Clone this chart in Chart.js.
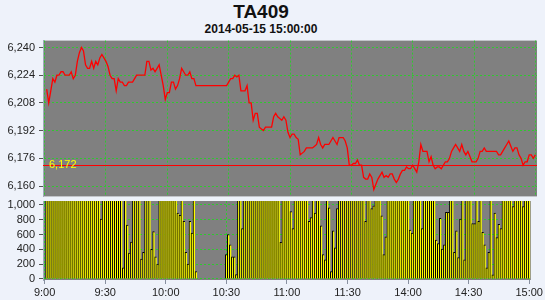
<!DOCTYPE html>
<html>
<head>
<meta charset="utf-8">
<script src="https://cdn.jsdelivr.net/npm/chart.js@4.4.1/dist/chart.umd.min.js"></script>
<style>
  body { margin: 0; background: #eef2fa; }
  #wrap { position: relative; width: 545px; height: 300px; background: #eef2fa; font-family: 'Liberation Sans', sans-serif; color: #111; }
  #title { position: absolute; left: 111px; width: 300px; top: 2px; line-height: 19px; text-align: center; font-weight: bold; font-size: 19px; }
  #sub { position: absolute; left: 111px; width: 300px; top: 23px; line-height: 12px; text-align: center; font-weight: bold; font-size: 12px; }
  #priceChart { position: absolute; left: 0; top: 30px; }
  #volChart { position: absolute; left: 0; top: 190px; }
</style>
</head>
<body>
<div id="wrap">
  <div id="title">TA409</div>
  <div id="sub">2014-05-15 15:00:00</div>
  <canvas id="priceChart" width="545" height="177"></canvas>
  <canvas id="volChart" width="545" height="110"></canvas>
</div>
<script>
// minute index 0 = 9:00 ... 150 = 11:30, 151 = 13:31 ... 240 = 15:00
const tickPos = [0, 30, 60, 90, 120, 150, 180, 210, 240];
const tickText = ['9:00', '9:30', '10:00', '10:30', '11:00', '11:30', '14:00', '14:30', '15:00'];
const priceTicks = [6160, 6176, 6192, 6208, 6224, 6240];
const volTicks = [0, 200, 400, 600, 800, 1000];
const refPrice = 6172;

const price = [null,
  6216, 6208, 6215, 6222, 6220, 6224, 6224, 6226, 6226, 6224,
  6224, 6224, 6226, 6222, 6224, 6232, 6237, 6240, 6238, 6230,
  6228, 6228, 6232, 6228, 6232, 6230, 6234, 6236, 6234, 6232,
  6229, 6224, 6222, 6222, 6215, 6222, 6220, 6220, 6218, 6218,
  6220, 6220, 6220, 6222, 6224, 6224, 6224, 6224, 6224, 6232,
  6232, 6227, 6228, 6226, 6228, 6230, 6224, 6218, 6210, 6214,
  6214, 6220, 6220, 6216, 6218, 6222, 6228, 6226, 6224, 6224,
  6226, 6222, 6222, 6218, 6218, 6218, 6218, 6218, 6218, 6218,
  6218, 6218, 6218, 6218, 6218, 6218, 6218, 6218, 6218, 6220,
  6222, 6222, 6224, 6223, 6224, 6215, 6215, 6215, 6218, 6208,
  6208, 6198, 6202, 6202, 6194, 6193, 6192, 6194, 6194, 6194,
  6194, 6200, 6202, 6200, 6199, 6198, 6200, 6198, 6191, 6188,
  6190, 6190, 6188, 6187, 6178, 6179, 6180, 6182, 6182, 6182,
  6182, 6183, 6184, 6188, 6184, 6182, 6184, 6184, 6184, 6186,
  6188, 6186, 6184, 6188, 6188, 6188, 6186, 6182, 6172, 6172,
  6173, 6173, 6175, 6172, 6172, 6165, 6164, 6164, 6167, 6165,
  6158, 6161, 6164, 6166, 6168, 6165, 6166, 6165, 6167, 6167,
  6164, 6162, 6164, 6167, 6169, 6169, 6171, 6170, 6170, 6172,
  6170, 6168, 6174, 6184, 6180, 6180, 6180, 6174, 6177, 6172,
  6170, 6171, 6171, 6170, 6172, 6174, 6174, 6176, 6180, 6182,
  6184, 6182, 6180, 6184, 6180, 6178, 6180, 6177, 6174, 6174,
  6174, 6176, 6180, 6180, 6182, 6180, 6180, 6180, 6180, 6180,
  6180, 6178, 6178, 6180, 6182, 6184, 6186, 6183, 6180, 6182,
  6182, 6178, 6176, 6172, 6174, 6174, 6178, 6178, 6176, 6178
];

// volumes above the top of the panel are clipped in the picture (1200 = off scale)
const volume = [null,
  1200, 1200, 1200, 1200, 1200, 1200, 1200, 1200, 1200, 1200,
  1200, 1200, 1200, 1200, 1200, 1200, 1200, 1200, 1200, 1200,
  1200, 1200, 1200, 1200, 1200, 1200, 1200, 810, 1200, 1200,
  1200, 1200, 1200, 1200, 1200, 1200, 1200, 1200, 150, 1200,
  730, 350, 500, 1200, 1200, 1200, 1200, 270, 360, 1200,
  1200, 1200, 400, 640, 300, 200, 1200, 1200, 1200, 1200,
  1200, 1200, 1200, 1200, 1200, 890, 860, 1200, 780, 360,
  200, 780, 620, 1200, 100, null, null, null, null, null,
  null, null, null, null, null, null, null, null, null, 330,
  600, 460, 300, 300, 60, 1200, 1200, 680, 1200, 1200,
  1200, 1200, 1200, 1200, 1200, 1200, 1200, 1200, 1200, 1200,
  1200, 1200, 1200, 1200, 1200, 1200, 495, 1200, 1200, 1200,
  1200, 910, 680, 1200, 1200, 1200, 1200, 1200, 1200, 1200,
  780, 830, 1200, 890, 1200, 1200, 720, 330, 260, 1200,
  960, 100, 650, 420, 950, 1200, 1200, 1200, 1200, 1200,
  1200, 1200, 1200, 1200, 1200, 1200, 1200, 1200, 780, 1200,
  1200, 950, 990, 1200, 1200, 1200, 855, 330, 570, 1200,
  1200, 1200, 1200, 1200, 1200, 1200, 1200, 1200, 1200, 1200,
  660, 620, 1200, 1200, 1200, 1200, 680, 1200, 1200, 1200,
  1200, 1200, 1200, 525, 480, 820, 405, 460, 900, 900,
  1200, 1200, 360, 650, 290, 810, 1200, 260, 1200, 1200,
  1200, 750, 750, 1200, 780, 1200, 630, 460, 150, 360,
  1200, 55, 890, 560, 740, 680, 1200, 1200, 1200, 1200,
  1200, 980, 1200, 1200, 1200, 1200, 980, 1200, 1200, 1200
];

const green = '#2fc82f';
const tickFont = { family: 'Liberation Sans', size: 11 };
const fmt = v => Number(v).toLocaleString('en-US');

const panelBg = {
  id: 'panelBg',
  beforeDraw(chart) {
    const a = chart.chartArea, c = chart.ctx;
    c.save();
    c.fillStyle = '#808080';
    c.fillRect(a.left, a.top, a.right - a.left, a.bottom - a.top);
    c.restore();
  }
};

const refLine = {
  id: 'refLine',
  beforeDatasetsDraw(chart) {
    const a = chart.chartArea, c = chart.ctx;
    const y = Math.round(chart.scales.y.getPixelForValue(refPrice)) + 0.5;
    c.save();
    c.strokeStyle = '#ff0000';
    c.lineWidth = 1;
    c.beginPath();
    c.moveTo(a.left, y);
    c.lineTo(a.right, y);
    c.stroke();
    c.restore();
  },
  afterDatasetsDraw(chart) {
    const a = chart.chartArea, c = chart.ctx;
    const y = chart.scales.y.getPixelForValue(refPrice);
    c.save();
    c.fillStyle = '#ffff00';
    c.font = '11px "Liberation Sans"';
    c.textBaseline = 'alphabetic';
    c.fillText(fmt(refPrice), a.left + 6, y + 3);
    c.restore();
  }
};

function timeAxis(showLabels) {
  return {
    type: 'linear',
    min: -0.8,
    max: 240.8,
    offset: false,
    afterBuildTicks: s => { s.ticks = tickPos.map(v => ({ value: v })); },
    afterFit: s => { s.height = showLabels ? 20 : 0; },
    ticks: {
      display: showLabels,
      autoSkip: false,
      maxRotation: 0,
      padding: 2,
      color: '#222',
      font: tickFont,
      callback: v => tickText[tickPos.indexOf(v)]
    },
    grid: { offset: false, color: green, drawTicks: showLabels, tickLength: 4, tickColor: '#8890a0' },
    border: { display: false, dash: [2, 2] }
  };
}

function valueAxis(min, max, ticks) {
  return {
    min: min,
    max: max,
    afterBuildTicks: s => { s.ticks = ticks.map(v => ({ value: v })); },
    afterFit: s => { s.width = 43; },
    ticks: { autoSkip: false, color: '#222', font: tickFont, padding: 4, callback: v => fmt(v) },
    grid: { color: green, tickLength: 4, tickColor: '#555' },
    border: { display: true, color: '#a0a8b8', dash: [2, 2] }
  };
}

new Chart(document.getElementById('priceChart'), {
  type: 'line',
  data: {
    datasets: [{
      data: price.map((v, i) => ({ x: i, y: v })).filter(p => p.y !== null),
      borderColor: '#ff0000',
      borderWidth: 1.3,
      pointRadius: 0,
      tension: 0
    }]
  },
  options: {
    responsive: false,
    animation: false,
    layout: { padding: { top: 10, bottom: 10, left: 0, right: 8 } },
    plugins: { legend: { display: false }, tooltip: { enabled: false } },
    scales: {
      x: timeAxis(false),
      y: valueAxis(6154, 6244, priceTicks)
    }
  },
  plugins: [panelBg, refLine]
});

new Chart(document.getElementById('volChart'), {
  type: 'bar',
  data: {
    datasets: [{
      data: volume.map((v, i) => ({ x: i, y: v })).filter(p => p.y !== null),
      backgroundColor: '#ffff00',
      borderColor: '#000000',
      borderWidth: { left: 1, top: 1, right: 0, bottom: 0 },
      borderSkipped: false,
      barPercentage: 1,
      categoryPercentage: 1
    }]
  },
  options: {
    responsive: false,
    animation: false,
    layout: { padding: { top: 11, bottom: 0, left: 0, right: 8 } },
    plugins: { legend: { display: false }, tooltip: { enabled: false } },
    scales: {
      x: timeAxis(true),
      y: valueAxis(-14, 1054, volTicks)
    }
  },
  plugins: [panelBg]
});
</script>
</body>
</html>
